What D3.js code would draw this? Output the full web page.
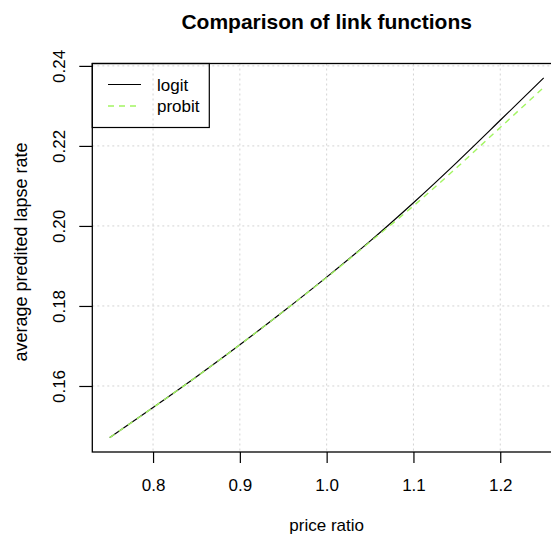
<!DOCTYPE html>
<html>
<head>
  <meta charset="utf-8">
  <style>
    body { margin: 0; background: #fff; }
    text { font-family: "Liberation Sans", Arial, sans-serif; fill: #000; }
  </style>
  <title>Comparison of link functions</title>
</head>
<body>
  <script src="https://cdn.jsdelivr.net/npm/d3@7/dist/d3.min.js"></script>
  <script>
    // data
    var priceRatio = [0.75, 0.80, 0.85, 0.90, 0.95, 1.00, 1.05, 1.10, 1.15, 1.20, 1.25];
    var logitRate  = [0.1471, 0.1546, 0.1623, 0.1703, 0.1786, 0.1872, 0.1962, 0.2058, 0.2159, 0.2264, 0.2370];
    var probitRate = [0.1471, 0.1546, 0.1623, 0.1703, 0.1786, 0.1871, 0.1960, 0.2050, 0.2146, 0.2246, 0.2346];
    var xTicks = [0.8, 0.9, 1.0, 1.1, 1.2];
    var yTicks = [0.16, 0.18, 0.20, 0.22, 0.24];
    var seriesNames = ["logit", "probit"];

    // dimensions of the plot region (window.top is reserved, so prefixed names)
    var width = 551;
    var height = 538;
    var plotLeft = 92.3, plotRight = 561, plotTop = 63.5, plotBottom = 452;
    var green = "#a3f562";
    var fontSize = 17;

    // R style axis ranges: data extent padded by 4%
    function padded(ext) {
      var d = (ext[1] - ext[0]) * 0.04;
      return [ext[0] - d, ext[1] + d];
    }
    var allY = logitRate.concat(probitRate);
    var x = d3.scaleLinear().domain(padded(d3.extent(priceRatio))).range([plotLeft, plotRight]);
    var y = d3.scaleLinear().domain(padded(d3.extent(allY))).range([plotBottom, plotTop]);

    var svg = d3.select("body").append("svg")
      .attr("width", width)
      .attr("height", height);

    // grid
    var grid = svg.append("g")
      .attr("stroke", "#d3d3d3")
      .attr("stroke-width", 1)
      .attr("stroke-dasharray", "2,3");
    grid.selectAll(".vg").data(xTicks).enter().append("line")
      .attr("x1", function(d) { return x(d); })
      .attr("x2", function(d) { return x(d); })
      .attr("y1", plotTop).attr("y2", plotBottom);
    grid.selectAll(".hg").data(yTicks).enter().append("line")
      .attr("y1", function(d) { return y(d); })
      .attr("y2", function(d) { return y(d); })
      .attr("x1", plotLeft).attr("x2", plotRight);

    // lines
    var pts = function(vals) {
      return priceRatio.map(function(p, i) { return [p, vals[i]]; });
    };
    var line = d3.line()
      .x(function(d) { return x(d[0]); })
      .y(function(d) { return y(d[1]); })
      .curve(d3.curveMonotoneX);

    svg.append("path")
      .datum(pts(logitRate))
      .attr("fill", "none")
      .attr("stroke", "#000")
      .attr("stroke-width", 1.2)
      .attr("d", line);

    svg.append("path")
      .datum(pts(probitRate))
      .attr("fill", "none")
      .attr("stroke", green)
      .attr("stroke-width", 1.4)
      .attr("stroke-dasharray", "6,5")
      .attr("d", line);

    // box around plot
    svg.append("rect")
      .attr("x", plotLeft).attr("y", plotTop)
      .attr("width", plotRight - plotLeft).attr("height", plotBottom - plotTop)
      .attr("fill", "none")
      .attr("stroke", "#000")
      .attr("stroke-width", 1.3);

    // X axis
    var xAxis = d3.axisBottom(x)
      .tickValues(xTicks)
      .tickFormat(d3.format(".1f"))
      .tickSizeInner(11).tickSizeOuter(0).tickPadding(16);
    var gx = svg.append("g")
      .attr("transform", "translate(0," + plotBottom + ")")
      .call(xAxis);
    gx.select(".domain").remove();
    gx.selectAll("line").attr("stroke", "#000").attr("stroke-width", 1.2);
    gx.selectAll("text").style("font-size", fontSize + "px").attr("font-family", null);

    // Y axis, labels turned like R's default
    var yAxis = d3.axisLeft(y)
      .tickValues(yTicks)
      .tickFormat(d3.format(".2f"))
      .tickSizeInner(13).tickSizeOuter(0);
    var gy = svg.append("g")
      .attr("transform", "translate(" + plotLeft + ",0)")
      .call(yAxis);
    gy.select(".domain").remove();
    gy.selectAll("line").attr("stroke", "#000").attr("stroke-width", 1.2);
    gy.selectAll("text")
      .attr("transform", "rotate(-90)")
      .attr("x", 0).attr("y", -27).attr("dy", 0)
      .attr("text-anchor", "middle")
      .attr("font-family", null)
      .style("font-size", fontSize + "px");

    // axis titles
    svg.append("text")
      .attr("text-anchor", "middle")
      .attr("x", (plotLeft + plotRight) / 2)
      .attr("y", 531)
      .style("font-size", fontSize + "px")
      .text("price ratio");

    svg.append("text")
      .attr("text-anchor", "middle")
      .attr("transform", "translate(27,252) rotate(-90)")
      .style("font-size", "18px")
      .text("average predited lapse rate");

    // title
    svg.append("text")
      .attr("text-anchor", "middle")
      .attr("x", (plotLeft + plotRight) / 2)
      .attr("y", 29)
      .style("font-size", "21px")
      .style("font-weight", "bold")
      .text("Comparison of link functions");

    // legend
    var lg = svg.append("g");
    lg.append("rect")
      .attr("x", plotLeft).attr("y", plotTop)
      .attr("width", 117).attr("height", 64)
      .attr("fill", "none")
      .attr("stroke", "#000")
      .attr("stroke-width", 1.2);
    var legendY = [84.5, 106];
    seriesNames.forEach(function(name, i) {
      lg.append("line")
        .attr("x1", 108).attr("x2", 141)
        .attr("y1", legendY[i]).attr("y2", legendY[i])
        .attr("stroke", i === 0 ? "#000" : green)
        .attr("stroke-width", i === 0 ? 1.2 : 1.4)
        .attr("stroke-dasharray", i === 0 ? null : "6,5");
      lg.append("text")
        .attr("x", 157)
        .attr("y", legendY[i] + 6)
        .style("font-size", fontSize + "px")
        .text(name);
    });
  </script>
</body>
</html>
